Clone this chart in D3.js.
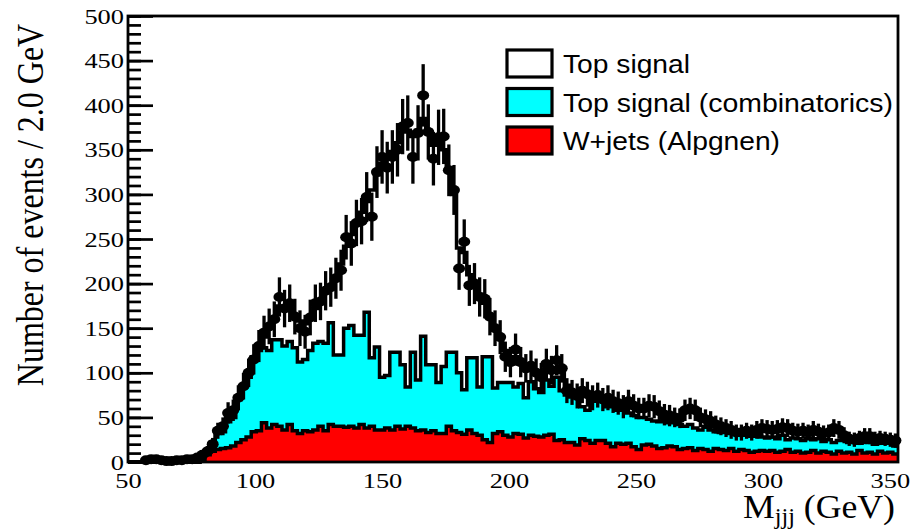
<!DOCTYPE html>
<html>
<head>
<meta charset="utf-8">
<script src="https://cdn.jsdelivr.net/npm/d3@7"></script>
<style>
  body { margin: 0; background: #fff; }
  svg { display: block; }
</style>
</head>
<body>
<div id="chart"></div>
<script>
// 150 bins of 2 GeV between 50 and 350
var binWidth = 2;
var binLow = d3.range(50, 350, binWidth);

// data points (null = empty bin, not drawn)
var dataCounts = [
  null,null,null,2,3,3,2,1,1,2,2,3,3,5,8,12,20,35,40,55,58,72,85,100,115,
  130,145,152,160,185,172,178,163,150,146,162,178,180,192,196,206,215,252,245,268,270,297,275,325,342,
  330,342,350,376,380,342,369,411,370,340,364,365,327,305,217,247,198,200,185,183,163,150,140,118,112,
  126,112,105,108,100,95,110,103,114,105,80,78,74,80,76,72,75,70,72,68,66,62,68,63,60,
  60,63,62,57,53,52,50,49,58,60,58,50,48,46,42,40,38,36,33,33,35,33,36,38,37,
  36,37,39,38,35,34,35,33,36,34,32,33,38,36,30,26,25,27,29,29,26,27,26,25,24
];
var dataErrors = [
  0,0,0,2,3,3,2,2,2,2,2,3,3,4,5,6,7,9,10,12,12,14,15,16,17,
  18,19,20,20,22,21,21,20,20,19,20,21,21,22,22,23,23,25,25,26,26,28,27,29,30,
  29,30,30,31,31,30,31,35,31,30,31,31,29,28,24,25,23,23,22,22,21,20,19,17,17,
  18,17,16,17,16,16,17,16,17,16,14,14,14,14,14,14,14,13,14,13,13,13,13,13,12,
  12,13,13,12,12,12,11,11,12,12,12,11,11,11,10,10,10,10,9,9,9,9,10,10,10,
  10,10,10,10,9,9,9,9,10,9,9,9,10,10,9,8,8,8,9,9,8,8,8,8,8
];

// stacked histograms (cumulative heights)
// top signal + combinatorics + W+jets
var stackTotal = [
  0,0,0,0,0,0,0,0,0,0,0,0,0,0,8,13,22,33,42,52,60,72,85,98,118,
  128,140,150,162,175,175,172,165,158,155,163,172,182,190,198,208,222,242,255,268,280,292,305,322,335,
  340,348,358,370,372,365,372,385,372,355,358,350,330,300,240,235,210,198,188,178,165,150,138,125,118,
  118,112,108,106,102,100,104,103,106,100,86,80,78,78,76,73,73,72,70,68,66,64,65,63,61,
  61,62,60,57,54,52,51,51,56,58,56,51,48,46,43,41,39,37,35,34,35,34,36,37,37,
  36,37,38,37,35,34,34,34,35,34,33,33,36,34,30,28,27,27,28,28,27,27,26,25,24
];
// combinatorics + W+jets
var stackComb = [
  0,0,0,0,0,0,0,0,0,0,0,0,0,0,4,10,14,32,34,45,50,70,85,95,117,
  125,128,125,137,137,130,135,128,112,115,125,133,135,133,156,120,120,150,153,142,142,168,117,129,95,
  97,123,123,109,84,123,92,141,109,109,89,107,123,123,100,81,117,117,84,118,118,83,89,89,89,
  84,88,72,90,82,78,92,85,95,80,75,73,78,62,58,70,68,72,62,66,58,60,55,52,50,
  50,48,46,45,48,44,46,42,40,42,38,36,40,36,34,33,35,32,33,30,31,29,32,28,27,
  28,26,30,25,27,26,24,27,25,26,23,25,22,24,26,22,23,21,24,22,20,23,21,22,18
];
// W+jets alone
var wjets = [
  0,0,0,0,0,0,0,0,0,0,0,0,0,0,3,8,12,14,15,16,18,22,25,28,34,
  35,44,38,42,40,36,42,35,32,35,34,36,40,35,42,40,40,39,40,38,42,38,40,36,36,
  38,36,40,37,40,38,35,36,33,35,32,32,40,35,33,31,36,32,30,25,22,32,34,30,28,
  32,31,27,30,29,28,30,31,24,25,22,22,19,26,24,21,24,24,21,17,21,20,21,17,14,
  19,20,18,15,16,18,17,14,15,16,13,15,14,12,15,14,13,15,12,14,13,11,12,13,12,
  13,11,12,14,11,12,10,11,13,10,12,11,9,12,10,11,9,13,10,11,9,12,10,11,9
];

var yMajorTicks = [0, 50, 100, 150, 200, 250, 300, 350, 400, 450, 500];
var yMinorTicks = d3.range(0, 501, 10);
var xTickLabels = [50, 100, 150, 200, 250, 300, 350];

var legendLabels = ["Top signal", "Top signal (combinatorics)", "W+jets (Alpgnen)"];
var legendColours = ["#ffffff", "#00ffff", "#ff0000"];
var legendWidths = [127, 330, 217];

var width = 913, height = 531;

var x = d3.scaleLinear().domain([50, 350]).range([128, 898]);
var y = d3.scaleLinear().domain([0, 500]).range([462, 16]);

var svg = d3.select("#chart")
  .append("svg")
    .attr("width", width)
    .attr("height", height);

function stepPoints(vals) {
  var pts = binLow.map(function (b, i) { return [b, vals[i]]; });
  pts.push([350, vals[vals.length - 1]]);
  return pts;
}

var area = d3.area()
  .x(function (d) { return x(d[0]); })
  .y0(y(0))
  .y1(function (d) { return y(d[1]); })
  .curve(d3.curveStepAfter);

var line = d3.line()
  .x(function (d) { return x(d[0]); })
  .y(function (d) { return y(d[1]); })
  .curve(d3.curveStepAfter);

// draw the stack, biggest first
var layers = [
  { vals: stackTotal, fill: legendColours[0] },
  { vals: stackComb, fill: legendColours[1] },
  { vals: wjets, fill: legendColours[2] }
];

var histG = svg.append("g");
layers.forEach(function (l) {
  var pts = stepPoints(l.vals);
  histG.append("path")
    .attr("d", area(pts))
    .style("fill", l.fill);
  histG.append("path")
    .attr("d", line(pts))
    .style("fill", "none")
    .style("stroke", "#000")
    .style("stroke-width", 3.5);
});

// frame
svg.append("rect")
  .attr("x", x(50))
  .attr("y", y(500))
  .attr("width", x(350) - x(50))
  .attr("height", y(0) - y(500))
  .style("fill", "none")
  .style("stroke", "#000")
  .style("stroke-width", 2.8);

// widen the serif labels a little, like the original raster
function stretchLabels(sel, sx, shift) {
  sel.selectAll("text").each(function (d) {
    var t = d3.select(this);
    var tx = (+t.attr("x") || 0) + (shift ? shift(d) : 0);
    var ty = +t.attr("y") || 0;
    t.attr("x", 0).attr("y", 0)
     .attr("transform", "translate(" + tx + "," + ty + ") scale(" + sx + ",1)");
  });
}

// y axis: minor ticks
svg.append("g")
  .attr("transform", "translate(" + x(50) + ",0)")
  .call(d3.axisLeft(y).tickValues(yMinorTicks).tickSize(-13).tickFormat(""))
  .call(function (g) { g.select(".domain").remove(); })
  .selectAll("line").style("stroke-width", 2.7);

// y axis: major ticks + labels
var yAxisG = svg.append("g")
  .attr("transform", "translate(" + x(50) + ",0)")
  .call(d3.axisLeft(y).tickValues(yMajorTicks).tickSize(-25).tickPadding(4).tickFormat(d3.format("d")))
  .call(function (g) { g.select(".domain").remove(); });
yAxisG.selectAll("line").style("stroke-width", 2.7);
yAxisG.selectAll("text")
  .style("font-family", "'Liberation Serif', 'Times New Roman', serif")
  .style("font-size", "22px")
  .style("fill", "#000");
stretchLabels(yAxisG, 1.2);

// x axis labels (ROOT puts them slightly left of the tick)
var xAxisG = svg.append("g")
  .attr("transform", "translate(0," + y(0) + ")")
  .call(d3.axisBottom(x).tickValues(xTickLabels).tickSize(0).tickPadding(10).tickFormat(d3.format("d")))
  .call(function (g) { g.select(".domain").remove(); });
xAxisG.selectAll("text")
  .style("font-family", "'Liberation Serif', 'Times New Roman', serif")
  .style("font-size", "22px")
  .style("fill", "#000");
stretchLabels(xAxisG, 1.2, function (v) { return -0.027 * (v - 50); });

// axis titles
svg.append("text")
  .attr("transform", "translate(43,205) scale(1.2,1) rotate(-90)")
  .attr("text-anchor", "middle")
  .style("font-family", "'Liberation Serif', 'Times New Roman', serif")
  .style("font-size", "32px")
  .text("Number of events / 2.0 GeV");

var xTitle = svg.append("text")
  .attr("transform", "translate(895,518) scale(1.05,1)")
  .attr("text-anchor", "end")
  .style("font-family", "'Liberation Serif', 'Times New Roman', serif")
  .style("font-size", "34px");
xTitle.append("tspan").text("M");
xTitle.append("tspan").attr("dy", 6).style("font-size", "23px").text("jjj");
xTitle.append("tspan").attr("dy", -6).text(" (GeV)");

// data points with error bars
var pts = binLow.map(function (b, i) {
  return { c: b + binWidth / 2, v: dataCounts[i], e: dataErrors[i] };
}).filter(function (d) { return d.v !== null; });

var dataG = svg.append("g");
dataG.selectAll("line")
  .data(pts)
  .enter()
  .append("line")
    .attr("x1", function (d) { return x(d.c); })
    .attr("x2", function (d) { return x(d.c); })
    .attr("y1", function (d) { return y(Math.max(0, d.v - d.e)); })
    .attr("y2", function (d) { return y(d.v + d.e); })
    .style("stroke", "#000")
    .style("stroke-width", 3.3);
dataG.selectAll("ellipse")
  .data(pts)
  .enter()
  .append("ellipse")
    .attr("cx", function (d) { return x(d.c); })
    .attr("cy", function (d) { return y(d.v); })
    .attr("rx", 6)
    .attr("ry", 5)
    .style("fill", "#000");

// legend
var legend = svg.append("g");
legendLabels.forEach(function (lab, i) {
  var top = 50 + i * 38.5;
  legend.append("rect")
    .attr("x", 507)
    .attr("y", top)
    .attr("width", 45)
    .attr("height", 27)
    .style("fill", legendColours[i])
    .style("stroke", "#000")
    .style("stroke-width", 3.2);
  legend.append("text")
    .attr("x", 563)
    .attr("y", top + 23)
    .attr("textLength", legendWidths[i])
    .attr("lengthAdjust", "spacingAndGlyphs")
    .style("font-family", "'Liberation Sans', Arial, sans-serif")
    .style("font-size", "25px")
    .style("fill", "#000")
    .text(lab);
});
</script>
</body>
</html>
